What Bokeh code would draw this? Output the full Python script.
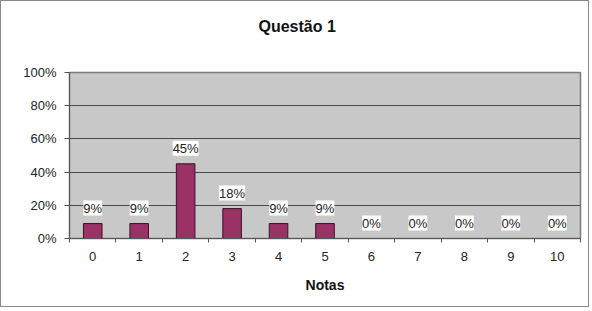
from bokeh.plotting import figure
from bokeh.models import ColumnDataSource, LabelSet, FixedTicker, NumeralTickFormatter, Range1d, Title
from bokeh.core.properties import value
from bokeh.embed import file_html
from bokeh.resources import INLINE

notas = list(range(11))
pct = [9, 9, 45, 18, 9, 9, 0, 0, 0, 0, 0]
y_ticks = [0, 20, 40, 60, 80, 100]
title_text = "Questão 1"
x_title = "Notas"

FONT = "Liberation Sans"

src = ColumnDataSource(dict(
    x=notas,
    top=[v / 100 for v in pct],
    lab=[f"{v}%" for v in pct],
))

p = figure(width=589, height=307, output_backend="svg", toolbar_location=None,
           x_range=Range1d(-0.5, 10.5), y_range=Range1d(0, 1),
           min_border_left=68, min_border_right=10, min_border_top=71, min_border_bottom=70,
           styles={"border": "1px solid #8a8a8a", "box-sizing": "border-box"})

# real title, then a blank spacer title that sits between it and the frame
p.title.text = title_text
p.title.align = "left"
p.title.offset = 189
p.title.standoff = 0
p.title.text_font = FONT
p.title.text_font_size = "16px"
p.title.text_font_style = "bold"
p.title.text_color = "#111111"
p.add_layout(Title(text=" ", standoff=0, text_font=FONT, text_font_size="32px"), "above")

p.background_fill_color = "#c8c8c8"
p.border_fill_color = "white"
p.outline_line_color = "#7a7a7a"
p.outline_line_width = 1.5

p.vbar(x="x", top="top", width=0.4, bottom=0, source=src,
       fill_color="#993366", line_color="#3a1024", line_width=1)

labels = LabelSet(x="x", y="top", text="lab", source=src, text_align="center",
                  text_baseline="bottom", y_offset=8, text_font=value(FONT),
                  text_font_size=value("13px"),
                  text_color="#222222", background_fill_color="white")
p.add_layout(labels)

# X axis
p.xaxis.ticker = FixedTicker(ticks=notas, minor_ticks=[n - 0.5 for n in notas] + [10.5])
p.xaxis.major_tick_line_color = None
p.xaxis.minor_tick_line_color = "#555555"
p.xaxis.minor_tick_out = 4
p.xaxis.minor_tick_in = 0
p.xaxis.axis_line_color = "#555555"
p.xaxis.major_label_standoff = 7
p.xaxis.major_label_text_font = FONT
p.xaxis.major_label_text_font_size = "13px"
p.xaxis.major_label_text_color = "#222222"
p.xaxis.axis_label = x_title
p.xaxis.axis_label_text_font = FONT
p.xaxis.axis_label_text_font_size = "14px"
p.xaxis.axis_label_text_font_style = "bold"
p.xaxis.axis_label_text_color = "#111111"
p.xaxis.axis_label_standoff = 13

# Y axis
p.yaxis.ticker = FixedTicker(ticks=[t / 100 for t in y_ticks])
p.yaxis.formatter = NumeralTickFormatter(format="0%")
p.yaxis.minor_tick_line_color = None
p.yaxis.major_tick_out = 5
p.yaxis.major_tick_in = 0
p.yaxis.major_tick_line_color = "#555555"
p.yaxis.axis_line_color = "#555555"
p.yaxis.major_label_standoff = 8
p.yaxis.major_label_text_font = FONT
p.yaxis.major_label_text_font_size = "13px"
p.yaxis.major_label_text_color = "#222222"

p.xgrid.grid_line_color = None
p.ygrid.grid_line_color = "#4a4a4a"
p.ygrid.grid_line_width = 1

open("out.html", "w").write(file_html(p, INLINE))
